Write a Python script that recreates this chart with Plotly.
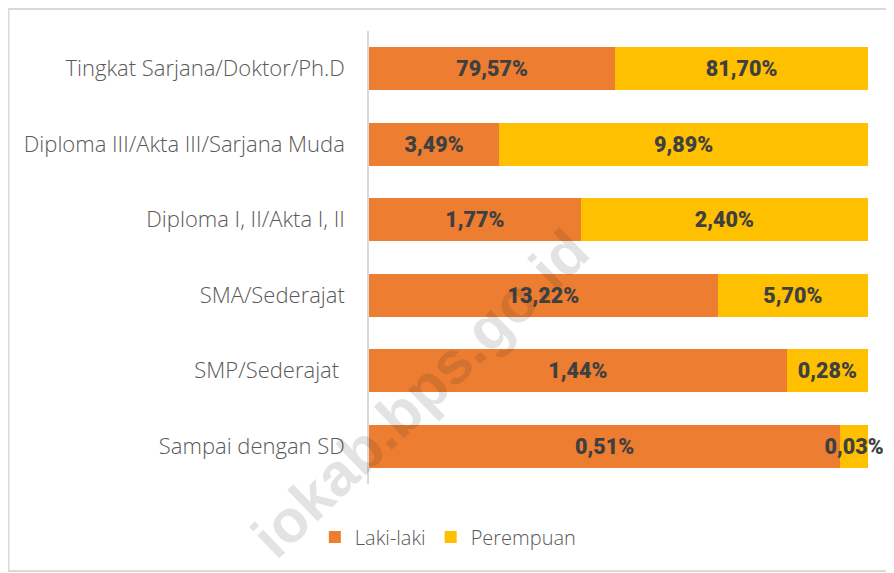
import plotly.graph_objects as go

# -----------------------------------------------------
# Data
# -----------------------------------------------------

categories = [
    "Tingkat Sarjana/Doktor/Ph.D",
    "Diploma III/Akta III/Sarjana Muda",
    "Diploma I, II/Akta I, II",
    "SMA/Sederajat",
    "SMP/Sederajat\u00a0",
    "Sampai dengan SD",
]

laki_laki = [79.57, 3.49, 1.77, 13.22, 1.44, 0.51]
perempuan = [81.70, 9.89, 2.40, 5.70, 0.28, 0.03]

series_names = ["Laki-laki", "Perempuan"]
series_colors = ["#ED7D31", "#FFC000"]


def pct(v):
    return f"{v:.2f}%".replace(".", ",")


# -----------------------------------------------------
# Figure
# -----------------------------------------------------

fig = go.Figure()

for name, values, color in zip(series_names, [laki_laki, perempuan], series_colors):
    fig.add_trace(
        go.Bar(
            name=name,
            y=categories,
            x=values,
            orientation="h",
            marker=dict(color=color, line=dict(width=0)),
            text=[pct(v) for v in values],
            textposition="inside",
            insidetextanchor="middle",
            textangle=0,
            constraintext="none",
            textfont=dict(family="Roboto", size=21.5,
                          color="#404040", weight=900),
        )
    )

# -----------------------------------------------------
# Layout
# -----------------------------------------------------

# bars end at 100 %, the extra room on the right keeps the
# last (tiny) label from being clipped
fig.update_layout(
    barmode="stack",
    barnorm="percent",
    bargap=0.426,
    width=886,
    height=565,
    paper_bgcolor="white",
    plot_bgcolor="white",
    margin=dict(l=361, r=11, t=23, b=89),
    font=dict(family="Open Sans", color="#595959"),
    legend=dict(
        orientation="h",
        xref="container",
        yref="container",
        x=0.497,
        y=0.0637,
        xanchor="center",
        yanchor="middle",
        font=dict(family="Open Sans", size=20, color="#595959", weight=300),
        traceorder="normal",
        itemwidth=30,
    ),
    shapes=[
        # chart frame, its right side runs off the picture
        dict(
            type="rect",
            xref="paper",
            yref="paper",
            x0=-0.7014,
            x1=1.3,
            y0=-0.192,
            y1=1.0486,
            line=dict(color="#D9D9D9", width=2),
            fillcolor="rgba(0,0,0,0)",
            layer="below",
        )
    ],
    annotations=[
        dict(
            text="iokab.bps.go.id",
            xref="paper",
            yref="paper",
            x=0.10,
            y=0.20,
            xanchor="center",
            yanchor="middle",
            showarrow=False,
            textangle=-44,
            font=dict(family="Arial", size=60, color="rgba(40,40,40,0.13)",
                      weight="bold"),
        )
    ],
)

fig.update_xaxes(
    range=[0, 103],
    visible=False,
    showgrid=False,
    zeroline=False,
)

fig.update_yaxes(
    autorange="reversed",
    showline=True,
    linecolor="#D9D9D9",
    linewidth=1.5,
    ticks="",
    ticklabelstandoff=18,
    tickfont=dict(family="Open Sans", size=22, color="#595959", weight=300),
    showgrid=False,
)

fig.write_html("out.html")
